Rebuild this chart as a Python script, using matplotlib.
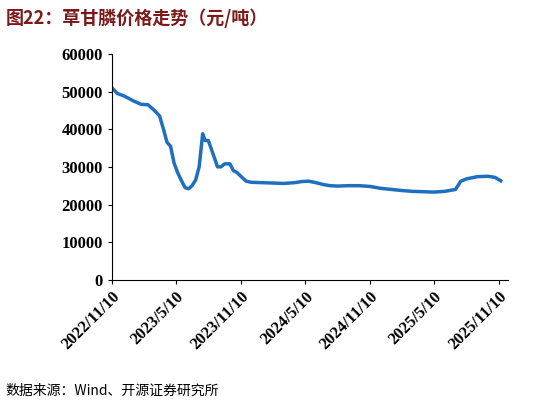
import matplotlib.pyplot as plt
import pandas as pd

dates = ["2022-11-10", "2022-11-25", "2022-12-15", "2023-01-10", "2023-02-01", "2023-02-20",
         "2023-03-10", "2023-03-25", "2023-04-05", "2023-04-15", "2023-04-25", "2023-05-05",
         "2023-05-15", "2023-05-25", "2023-06-05", "2023-06-15", "2023-06-25", "2023-07-05",
         "2023-07-15", "2023-07-25", "2023-08-01", "2023-08-10", "2023-08-25", "2023-09-05",
         "2023-09-15", "2023-09-25", "2023-10-10", "2023-10-20", "2023-10-30", "2023-11-10",
         "2023-11-25", "2023-12-10", "2024-01-10", "2024-02-10", "2024-03-10", "2024-04-10",
         "2024-05-01", "2024-05-20", "2024-06-10", "2024-07-01", "2024-07-20", "2024-08-10",
         "2024-09-10", "2024-10-10", "2024-11-10", "2024-12-10", "2025-01-10", "2025-02-10",
         "2025-03-10", "2025-04-10", "2025-05-10", "2025-06-10", "2025-07-10", "2025-07-25",
         "2025-08-10", "2025-09-10", "2025-10-10", "2025-10-30", "2025-11-15"]
values = [51000, 49500, 48800, 47500, 46600, 46500,
          45000, 43500, 40000, 36500, 35500, 31000,
          28500, 26500, 24500, 24200, 25000, 26500,
          30000, 38800, 37000, 37000, 33000, 30000,
          30000, 30800, 30800, 29000, 28500, 27500,
          26200, 25900, 25800, 25700, 25600, 25800,
          26100, 26200, 25800, 25300, 25000, 24900,
          25000, 25000, 24800, 24300, 24000, 23700,
          23500, 23400, 23300, 23500, 24000, 26200,
          26800, 27400, 27500, 27200, 26300]

ticks = ["2022-11-10", "2023-05-10", "2023-11-10", "2024-05-10",
         "2024-11-10", "2025-05-10", "2025-11-10"]
tick_labels = ["2022/11/10", "2023/5/10", "2023/11/10", "2024/5/10",
               "2024/11/10", "2025/5/10", "2025/11/10"]

x = pd.to_datetime(dates)
fig = plt.figure(figsize=(5.46, 4.05), dpi=100)
ax = fig.add_axes([0.205, 0.309, 0.725, 0.558])
ax.plot(x, values, color="#1f6fbf", lw=2.5)
ax.set_ylim(0, 60000)
ax.set_yticks(range(0, 60001, 10000))
ax.set_xlim(pd.Timestamp("2022-11-10"), pd.Timestamp("2025-12-05"))
ax.set_xticks(pd.to_datetime(ticks))
ax.set_xticklabels(tick_labels, rotation=45, ha="right", rotation_mode="anchor")
for lab in ax.get_xticklabels() + ax.get_yticklabels():
    lab.set_fontfamily("Liberation Serif")
    lab.set_fontweight("bold")
    lab.set_fontsize(12)
ax.spines["top"].set_visible(False)
ax.spines["right"].set_visible(False)
ax.tick_params(direction="out", length=3)

fig.text(0.01, 0.955, "图22：草甘膦价格走势（元/吨）", fontsize=13, fontweight="bold",
         color="#7a1a1a", family=["Noto Sans CJK SC", "DejaVu Sans"], va="center")
fig.text(0.01, 0.035, "数据来源：Wind、开源证券研究所", fontsize=10,
         family=["Noto Sans CJK SC", "DejaVu Sans"], va="center")
fig.savefig("out.png", dpi=100)
